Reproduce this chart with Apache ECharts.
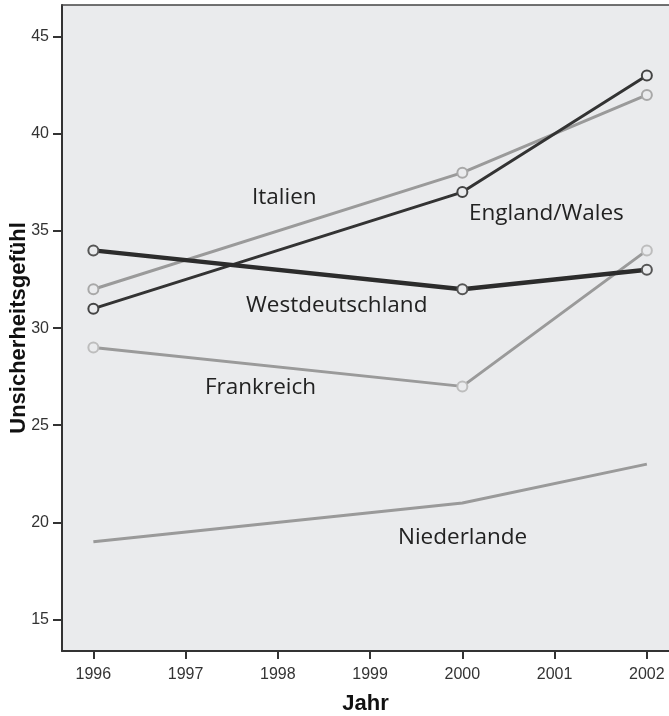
<!DOCTYPE html>
<html>
<head>
<meta charset="utf-8">
<script src="https://cdn.jsdelivr.net/npm/echarts@6/dist/echarts.min.js"></script>
<style>
html,body{margin:0;padding:0;background:#fff;}
#c{width:669px;height:716px;}
</style>
</head>
<body>
<div id="c"></div>
<script>
const years = [1996, 2000, 2002];
const yTicks = [15, 20, 25, 30, 35, 40, 45];
const xTicks = [1996, 1997, 1998, 1999, 2000, 2001, 2002];
const westdeutschland = [34, 32, 33];
const englandWales = [31, 37, 43];
const italien = [32, 38, 42];
const frankreich = [29, 27, 34];
const niederlande = [19, 21, 23];

const bg = '#eaebed';
function pts(vals){ return years.map((y,i)=>[y, vals[i]]); }
function mk(name, vals, color, width, markerColor, showSymbol){
  return {
    name: name, type: 'line', data: pts(vals),
    lineStyle: {color: color, width: width},
    itemStyle: {color: bg, borderColor: markerColor, borderWidth: 2},
    symbol: showSymbol ? 'circle' : 'none', symbolSize: 10, showSymbol: showSymbol,
    z: showSymbol ? 3 : 2, silent: true, animation: false
  };
}
const chart = echarts.init(document.getElementById('c'), null, {renderer: 'canvas'});
const tickLabelFont = {fontFamily: 'Liberation Sans, Arial, sans-serif', fontSize: 16, color: '#333'};
const titleFont = {fontFamily: 'Liberation Sans, Arial, sans-serif', fontSize: 22, fontWeight: 'bold', color: '#111'};
const lblFont = '22.5px "Open Sans", sans-serif';
chart.setOption({
  animation: false,
  backgroundColor: '#fff',
  grid: {left: 62, top: 5, right: 0, bottom: 65, show: true, backgroundColor: bg, borderWidth: 0,
         containLabel: false, outerBoundsMode: 'none'},
  xAxis: [{
    type: 'value', min: 1995.66, max: 2002.24,
    axisLine: {show: true, lineStyle: {color: '#333', width: 2}},
    axisTick: {show: true, customValues: xTicks, length: 8, lineStyle: {color: '#333', width: 2}},
    axisLabel: Object.assign({customValues: xTicks, margin: 16, formatter: v => String(v)}, tickLabelFont),
    splitLine: {show: false},
    name: 'Jahr', nameLocation: 'middle', nameGap: 42, nameMoveOverlap: false,
    nameTextStyle: titleFont
  }, {
    type: 'value', position: 'top', min: 1995.66, max: 2002.24,
    axisLine: {show: true, onZero: false, lineStyle: {color: '#444', width: 1.5}},
    axisTick: {show: false}, axisLabel: {show: false}, splitLine: {show: false}
  }],
  yAxis: {
    type: 'value', min: 13.38, max: 46.63,
    axisLine: {show: true, lineStyle: {color: '#333', width: 2}},
    axisTick: {show: true, customValues: yTicks, length: 9, lineStyle: {color: '#333', width: 2}},
    axisLabel: Object.assign({customValues: yTicks, margin: 13}, tickLabelFont),
    splitLine: {show: false},
    name: 'Unsicherheitsgefühl', nameLocation: 'middle', nameGap: 32, nameRotate: 90, nameMoveOverlap: false,
    nameTextStyle: titleFont
  },
  series: [
    mk('Niederlande', niederlande, '#9a9a9a', 3, '#9a9a9a', false),
    mk('Frankreich', frankreich, '#9a9a9a', 3, '#bdbdbd', true),
    mk('Italien', italien, '#9a9a9a', 3, '#a8a8a8', true),
    mk('England/Wales', englandWales, '#333333', 3, '#444444', true),
    mk('Westdeutschland', westdeutschland, '#2c2c2c', 4.5, '#555555', true)
  ],
  graphic: [
    {type:'text', left: 252, top: 186, style:{text:'Italien', font: lblFont, fill:'#222'}},
    {type:'text', left: 469, top: 202, style:{text:'England/Wales', font: lblFont, fill:'#222'}},
    {type:'text', left: 246, top: 294, style:{text:'Westdeutschland', font: lblFont, fill:'#222'}},
    {type:'text', left: 205, top: 376, style:{text:'Frankreich', font: lblFont, fill:'#222'}},
    {type:'text', left: 398, top: 526, style:{text:'Niederlande', font: lblFont, fill:'#222'}}
  ]
});
</script>
</body>
</html>
